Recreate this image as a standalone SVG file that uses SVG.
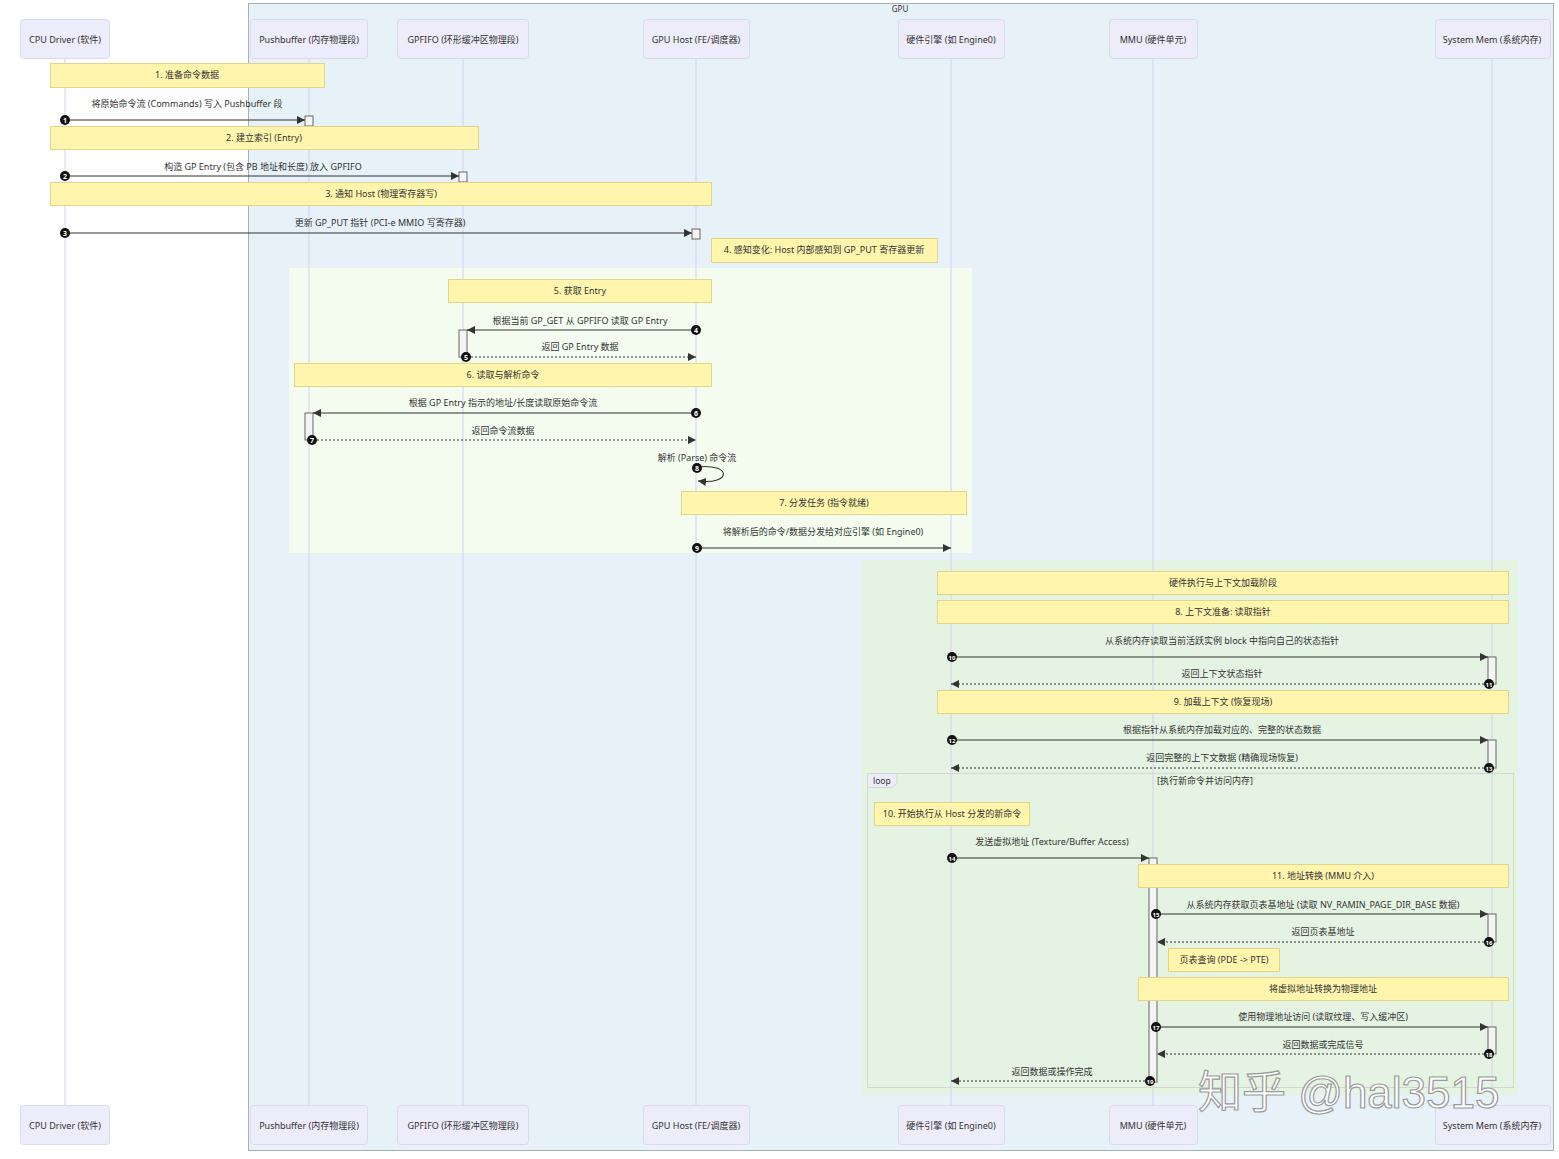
<svg xmlns="http://www.w3.org/2000/svg" width="1559" height="1159" viewBox="0 0 1559 1159">
<defs>
<style>
text{font-family:"Noto Sans","Noto Sans CJK SC",sans-serif;font-size:9px;fill:#333;}
.c{text-anchor:middle;}
.actor rect{fill:#ececfa;stroke:#dadaee;stroke-width:1;}
.life{stroke:#d2d2ea;stroke-width:1;}
.note{fill:#fff5ad;stroke:#e2d58a;stroke-width:1;}
.msg{stroke:#333;stroke-width:1.1;fill:none;}
.dash{stroke:#333;stroke-width:1.1;fill:none;stroke-dasharray:2,2;}
.act{fill:#f4f4f4;stroke:#666;stroke-width:1;}
.num{fill:#111;}
.nt{fill:#fff;font-size:7px;font-weight:bold;text-anchor:middle;}
</style>
<marker id="ah" viewBox="0 0 10 10" refX="10" refY="5" markerWidth="8" markerHeight="8" markerUnits="userSpaceOnUse" orient="auto">
<path d="M0,0 L10,5 L0,10 z" fill="#333"/>
</marker>
</defs>
<rect width="1559" height="1159" fill="#ffffff"/>

<!-- GPU box -->
<g id="gpu-box">
<rect x="248.5" y="3.5" width="1305" height="1147" fill="#e6f2f8" stroke="#a9b0b4" stroke-width="1"/>
<text x="900" y="12" class="c" style="font-size:8px">GPU</text>
</g>

<!-- regions -->
<rect x="289" y="268" width="683" height="285" fill="#f4fcf0"/>
<rect x="862" y="560" width="656" height="535" fill="#e5f3e3"/>

<!-- lifelines -->
<g id="lifelines">
<line class="life" x1="65" y1="58" x2="65" y2="1105"/>
<line class="life" x1="309" y1="58" x2="309" y2="1105"/>
<line class="life" x1="463" y1="58" x2="463" y2="1105"/>
<line class="life" x1="696" y1="58" x2="696" y2="1105"/>
<line class="life" x1="951" y1="58" x2="951" y2="1105"/>
<line class="life" x1="1153" y1="58" x2="1153" y2="1105"/>
<line class="life" x1="1492" y1="58" x2="1492" y2="1105"/>
</g>

<!-- loop frame -->
<g id="loop">
<rect x="867.5" y="773.5" width="646" height="314" fill="none" stroke="#d0d8d0" stroke-width="1"/>
<path d="M867.5,773.5 H897 V783 L892,787.5 H867.5 Z" fill="#ececfa" stroke="#d0d8d0"/>
<text x="873" y="784" style="font-size:8.5px">loop</text>
<text x="1205" y="784" class="c">[执行新命令并访问内存]</text>
</g>

<!-- actors top -->
<g id="actor-cpu" class="actor"><rect x="20.5" y="19.5" width="89" height="39" rx="3"/><text x="65" y="43" class="c">CPU Driver (软件)</text></g>
<g id="actor-pb" class="actor"><rect x="250.5" y="19.5" width="117" height="39" rx="3"/><text x="309" y="43" class="c">Pushbuffer (内存物理段)</text></g>
<g id="actor-gpfifo" class="actor"><rect x="397.5" y="19.5" width="131" height="39" rx="3"/><text x="463" y="43" class="c">GPFIFO (环形缓冲区物理段)</text></g>
<g id="actor-host" class="actor"><rect x="643.5" y="19.5" width="106" height="39" rx="3"/><text x="696" y="43" class="c">GPU Host (FE/调度器)</text></g>
<g id="actor-engine" class="actor"><rect x="898.5" y="19.5" width="106" height="39" rx="3"/><text x="951" y="43" class="c">硬件引擎 (如 Engine0)</text></g>
<g id="actor-mmu" class="actor"><rect x="1109.5" y="19.5" width="88" height="39" rx="3"/><text x="1153" y="43" class="c">MMU (硬件单元)</text></g>
<g id="actor-mem" class="actor"><rect x="1435.5" y="19.5" width="115" height="39" rx="3"/><text x="1492" y="43" class="c">System Mem (系统内存)</text></g>

<!-- actors bottom -->
<g id="actor-cpu-b" class="actor"><rect x="20.5" y="1105.5" width="89" height="39" rx="3"/><text x="65" y="1129" class="c">CPU Driver (软件)</text></g>
<g id="actor-pb-b" class="actor"><rect x="250.5" y="1105.5" width="117" height="39" rx="3"/><text x="309" y="1129" class="c">Pushbuffer (内存物理段)</text></g>
<g id="actor-gpfifo-b" class="actor"><rect x="397.5" y="1105.5" width="131" height="39" rx="3"/><text x="463" y="1129" class="c">GPFIFO (环形缓冲区物理段)</text></g>
<g id="actor-host-b" class="actor"><rect x="643.5" y="1105.5" width="106" height="39" rx="3"/><text x="696" y="1129" class="c">GPU Host (FE/调度器)</text></g>
<g id="actor-engine-b" class="actor"><rect x="898.5" y="1105.5" width="106" height="39" rx="3"/><text x="951" y="1129" class="c">硬件引擎 (如 Engine0)</text></g>
<g id="actor-mmu-b" class="actor"><rect x="1109.5" y="1105.5" width="88" height="39" rx="3"/><text x="1153" y="1129" class="c">MMU (硬件单元)</text></g>
<g id="actor-mem-b" class="actor"><rect x="1435.5" y="1105.5" width="115" height="39" rx="3"/><text x="1492" y="1129" class="c">System Mem (系统内存)</text></g>

<!-- activations -->
<g id="activations">
<rect class="act" x="305" y="116" width="8" height="10"/>
<rect class="act" x="459" y="172" width="8" height="10"/>
<rect class="act" x="692" y="229" width="8" height="10"/>
<rect class="act" x="459" y="330" width="8" height="27"/>
<rect class="act" x="305" y="413" width="8" height="27"/>
<rect class="act" x="1488" y="657" width="8" height="27"/>
<rect class="act" x="1488" y="740" width="8" height="28"/>
<rect class="act" x="1149" y="858" width="8" height="224"/>
<rect class="act" x="1488" y="914" width="8" height="28"/>
<rect class="act" x="1488" y="1027" width="8" height="27"/>
</g>

<!-- notes -->
<g id="note-1"><rect class="note" x="50.5" y="63.5" width="274" height="24"/><text x="187" y="78" class="c">1. 准备命令数据</text></g>
<g id="note-2"><rect class="note" x="50.5" y="126.5" width="428" height="23"/><text x="264" y="141" class="c">2. 建立索引 (Entry)</text></g>
<g id="note-3"><rect class="note" x="50.5" y="182.5" width="661" height="23"/><text x="381" y="197" class="c">3. 通知 Host (物理寄存器写)</text></g>
<g id="note-4"><rect class="note" x="711.5" y="238.5" width="226" height="24"/><text x="824" y="253" class="c">4. 感知变化: Host 内部感知到 GP_PUT 寄存器更新</text></g>
<g id="note-5"><rect class="note" x="448.5" y="279.5" width="263" height="23"/><text x="580" y="294" class="c">5. 获取 Entry</text></g>
<g id="note-6"><rect class="note" x="294.5" y="363.5" width="417" height="23"/><text x="503" y="378" class="c">6. 读取与解析命令</text></g>
<g id="note-7"><rect class="note" x="681.5" y="491.5" width="285" height="23"/><text x="824" y="506" class="c">7. 分发任务 (指令就绪)</text></g>
<g id="note-phase"><rect class="note" x="937.5" y="571.5" width="571" height="23"/><text x="1223" y="586" class="c">硬件执行与上下文加载阶段</text></g>
<g id="note-8"><rect class="note" x="937.5" y="600.5" width="571" height="23"/><text x="1223" y="615" class="c">8. 上下文准备: 读取指针</text></g>
<g id="note-9"><rect class="note" x="937.5" y="690.5" width="571" height="23"/><text x="1223" y="705" class="c">9. 加载上下文 (恢复现场)</text></g>
<g id="note-10"><rect class="note" x="874.5" y="802.5" width="155" height="23"/><text x="952" y="817" class="c">10. 开始执行从 Host 分发的新命令</text></g>
<g id="note-11"><rect class="note" x="1138.5" y="864.5" width="370" height="23"/><text x="1323" y="879" class="c">11. 地址转换 (MMU 介入)</text></g>
<g id="note-pte"><rect class="note" x="1168.5" y="948.5" width="111" height="23"/><text x="1224" y="963" class="c">页表查询 (PDE -&gt; PTE)</text></g>
<g id="note-va"><rect class="note" x="1138.5" y="977.5" width="370" height="23"/><text x="1323" y="992" class="c">将虚拟地址转换为物理地址</text></g>

<!-- connectors -->
<g id="connectors">
<line class="msg" x1="65" y1="120" x2="305" y2="120" marker-end="url(#ah)"/>
<text x="187" y="107" class="c">将原始命令流 (Commands) 写入 Pushbuffer 段</text>
<line class="msg" x1="65" y1="176" x2="459" y2="176" marker-end="url(#ah)"/>
<text x="263" y="170" class="c">构造 GP Entry (包含 PB 地址和长度) 放入 GPFIFO</text>
<line class="msg" x1="65" y1="233" x2="692" y2="233" marker-end="url(#ah)"/>
<text x="380" y="226" class="c">更新 GP_PUT 指针 (PCI-e MMIO 写寄存器)</text>
<line class="msg" x1="696" y1="330" x2="467" y2="330" marker-end="url(#ah)"/>
<text x="580" y="324" class="c">根据当前 GP_GET 从 GPFIFO 读取 GP Entry</text>
<line class="dash" x1="467" y1="357" x2="696" y2="357" marker-end="url(#ah)"/>
<text x="580" y="350" class="c">返回 GP Entry 数据</text>
<line class="msg" x1="696" y1="413" x2="313" y2="413" marker-end="url(#ah)"/>
<text x="503" y="406" class="c">根据 GP Entry 指示的地址/长度读取原始命令流</text>
<line class="dash" x1="313" y1="440" x2="696" y2="440" marker-end="url(#ah)"/>
<text x="503" y="434" class="c">返回命令流数据</text>
<path class="msg" d="M697,467 C732,463 732,485 698,481" marker-end="url(#ah)"/>
<text x="697" y="461" class="c">解析 (Parse) 命令流</text>
<line class="msg" x1="696" y1="548" x2="951" y2="548" marker-end="url(#ah)"/>
<text x="823" y="535" class="c">将解析后的命令/数据分发给对应引擎 (如 Engine0)</text>
<line class="msg" x1="951" y1="657" x2="1488" y2="657" marker-end="url(#ah)"/>
<text x="1222" y="644" class="c">从系统内存读取当前活跃实例 block 中指向自己的状态指针</text>
<line class="dash" x1="1488" y1="684" x2="951" y2="684" marker-end="url(#ah)"/>
<text x="1222" y="677" class="c">返回上下文状态指针</text>
<line class="msg" x1="951" y1="740" x2="1488" y2="740" marker-end="url(#ah)"/>
<text x="1222" y="733" class="c">根据指针从系统内存加载对应的、完整的状态数据</text>
<line class="dash" x1="1488" y1="768" x2="951" y2="768" marker-end="url(#ah)"/>
<text x="1222" y="761" class="c">返回完整的上下文数据 (精确现场恢复)</text>
<line class="msg" x1="951" y1="858" x2="1149" y2="858" marker-end="url(#ah)"/>
<text x="1052" y="845" class="c">发送虚拟地址 (Texture/Buffer Access)</text>
<line class="msg" x1="1157" y1="914" x2="1488" y2="914" marker-end="url(#ah)"/>
<text x="1323" y="908" class="c">从系统内存获取页表基地址 (读取 NV_RAMIN_PAGE_DIR_BASE 数据)</text>
<line class="dash" x1="1488" y1="942" x2="1157" y2="942" marker-end="url(#ah)"/>
<text x="1323" y="935" class="c">返回页表基地址</text>
<line class="msg" x1="1157" y1="1027" x2="1488" y2="1027" marker-end="url(#ah)"/>
<text x="1323" y="1020" class="c">使用物理地址访问 (读取纹理、写入缓冲区)</text>
<line class="dash" x1="1488" y1="1054" x2="1157" y2="1054" marker-end="url(#ah)"/>
<text x="1323" y="1048" class="c">返回数据或完成信号</text>
<line class="dash" x1="1149" y1="1081" x2="951" y2="1081" marker-end="url(#ah)"/>
<text x="1052" y="1075" class="c">返回数据或操作完成</text>
</g>

<!-- sequence numbers -->
<g id="seq-numbers">
<circle class="num" cx="65" cy="120" r="5"/><text class="nt" x="65" y="122.5">1</text>
<circle class="num" cx="65" cy="176" r="5"/><text class="nt" x="65" y="178.5">2</text>
<circle class="num" cx="65" cy="233" r="5"/><text class="nt" x="65" y="235.5">3</text>
<circle class="num" cx="696" cy="330" r="5"/><text class="nt" x="696" y="332.5">4</text>
<circle class="num" cx="466" cy="357" r="5"/><text class="nt" x="466" y="359.5">5</text>
<circle class="num" cx="696" cy="413" r="5"/><text class="nt" x="696" y="415.5">6</text>
<circle class="num" cx="312" cy="440" r="5"/><text class="nt" x="312" y="442.5">7</text>
<circle class="num" cx="697" cy="468" r="5"/><text class="nt" x="697" y="470.5">8</text>
<circle class="num" cx="697" cy="548" r="5"/><text class="nt" x="697" y="550.5">9</text>
<circle class="num" cx="952" cy="657" r="5"/><text class="nt" x="952" y="659.5" style="font-size:6px">10</text>
<circle class="num" cx="1489" cy="684" r="5"/><text class="nt" x="1489" y="686.5" style="font-size:6px">11</text>
<circle class="num" cx="952" cy="740" r="5"/><text class="nt" x="952" y="742.5" style="font-size:6px">12</text>
<circle class="num" cx="1489" cy="768" r="5"/><text class="nt" x="1489" y="770.5" style="font-size:6px">13</text>
<circle class="num" cx="952" cy="858" r="5"/><text class="nt" x="952" y="860.5" style="font-size:6px">14</text>
<circle class="num" cx="1156" cy="914" r="5"/><text class="nt" x="1156" y="916.5" style="font-size:6px">15</text>
<circle class="num" cx="1489" cy="942" r="5"/><text class="nt" x="1489" y="944.5" style="font-size:6px">16</text>
<circle class="num" cx="1156" cy="1027" r="5"/><text class="nt" x="1156" y="1029.5" style="font-size:6px">17</text>
<circle class="num" cx="1489" cy="1054" r="5"/><text class="nt" x="1489" y="1056.5" style="font-size:6px">18</text>
<circle class="num" cx="1150" cy="1081" r="5"/><text class="nt" x="1150" y="1083.5" style="font-size:6px">19</text>
</g>

<!-- watermark -->
<text x="1198" y="1108" style="font-size:44px;fill:#ffffff;stroke:#9a9a9a;stroke-width:1.2;font-family:'Liberation Sans','Noto Sans CJK SC',sans-serif;">知乎 @hal3515</text>
</svg>
